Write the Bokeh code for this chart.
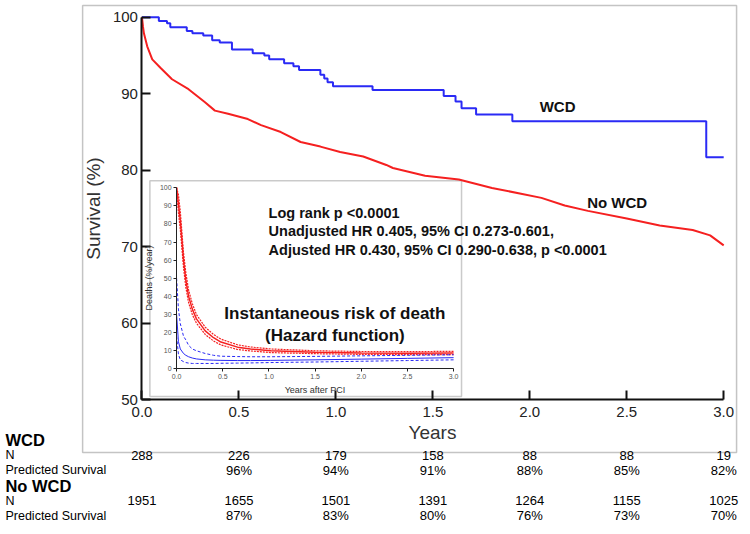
import numpy as np
from bokeh.plotting import figure
from bokeh.models import Range1d, LinearAxis, FixedTicker, PrintfTickFormatter, BoxAnnotation
from bokeh.core.properties import value
from bokeh.embed import file_html
from bokeh.resources import INLINE

# ---------------- data ----------------
x_ticks = [0.0, 0.5, 1.0, 1.5, 2.0, 2.5, 3.0]
y_ticks = [50, 60, 70, 80, 90, 100]

# Kaplan-Meier, WCD (step function)
wcd_t = [0.0, 0.087, 0.129, 0.146, 0.231, 0.260, 0.316, 0.362, 0.401, 0.464, 0.571, 0.631, 0.656,
         0.733, 0.781, 0.810, 0.920, 0.940, 0.957, 0.985, 1.189, 1.556, 1.617, 1.648, 1.723, 1.910,
         2.910, 3.0]
wcd_s = [100.0, 99.5, 99.2, 98.7, 98.2, 97.9, 97.6, 97.0, 96.7, 95.8, 95.3, 95.0, 94.5,
         94.0, 93.6, 93.1, 92.5, 92.0, 91.5, 91.0, 90.5, 89.7, 89.0, 88.1, 87.3, 86.4,
         81.7, 81.7]

# Kaplan-Meier, No WCD
nowcd_t = [0.0, 0.005, 0.01, 0.027, 0.053, 0.095, 0.155, 0.24, 0.325, 0.376, 0.444, 0.546, 0.614,
           0.716, 0.818, 0.92, 1.022, 1.141, 1.26, 1.294, 1.46, 1.634, 1.805, 2.06, 2.18, 2.30,
           2.50, 2.67, 2.84, 2.93, 3.0]
nowcd_s = [100.0, 98.8, 97.9, 96.2, 94.5, 93.4, 91.9, 90.6, 88.9, 87.8, 87.4, 86.7, 85.9,
           85.0, 83.7, 83.1, 82.4, 81.8, 80.7, 80.3, 79.3, 78.8, 77.7, 76.4, 75.4, 74.7,
           73.7, 72.8, 72.2, 71.5, 70.2]

# Hazard function (inset)
haz_t = [0.0, 0.02, 0.04, 0.075, 0.1, 0.13, 0.17, 0.215, 0.31, 0.4, 0.48, 0.66, 0.8, 1.02,
         1.5, 2.0, 2.5, 3.0]
haz_nowcd = [100, 91, 82, 60, 49, 40, 33, 27.6, 21, 17.2, 14.8, 12, 11, 10, 9.2, 8.8, 8.7, 8.8]
haz_nowcd_hi = [100, 96, 87, 64, 53, 43.5, 36, 30, 23, 19, 16.4, 13.3, 12.1, 11, 10, 9.6, 9.5, 9.7]
haz_nowcd_lo = [98, 86, 77, 56, 45, 36.5, 30, 25.2, 19, 15.4, 13.2, 10.7, 9.9, 9, 8.4, 8.0, 7.9, 7.9]
haz_wcd = [30, 15, 11, 8.5, 7.5, 6.7, 6.0, 5.5, 5.0, 4.8, 4.7, 4.6, 4.6, 4.7, 5.0, 5.4, 5.8, 6.2]
haz_wcd_hi = [50, 33, 25, 18, 16, 13, 11, 10, 8.5, 7.5, 7.0, 6.8, 6.7, 6.7, 6.9, 7.2, 7.5, 7.8]
haz_wcd_lo = [18, 8, 5, 4, 3.5, 3.2, 3.0, 3.0, 3.0, 3.0, 3.1, 3.2, 3.3, 3.5, 3.8, 4.2, 4.6, 5.0]
haz_x_ticks = [0.0, 0.5, 1.0, 1.5, 2.0, 2.5, 3.0]
haz_y_ticks = [0, 10, 20, 30, 40, 50, 60, 70, 80, 90, 100]

# Numbers at risk table
wcd_n = [288, 226, 179, 158, 88, 88, 19]
wcd_pred = [96, 94, 91, 88, 85, 82]
nowcd_n = [1951, 1655, 1501, 1391, 1264, 1155, 1025]
nowcd_pred = [87, 83, 80, 76, 73, 70]

stats_lines = ["Log rank p <0.0001",
               "Unadjusted HR 0.405, 95% CI 0.273-0.601,",
               "Adjusted HR 0.430, 95% CI 0.290-0.638, p <0.0001"]
haz_title = ["Instantaneous risk of death", "(Hazard function)"]

# ---------------- layout helpers ----------------
W, H = 742, 526
SX, SY = W / 750.0, H / 534.0
def cx(rx):
    return rx * SX
def cy(ry):
    return ry * SY

def make_range(a, pa, b, pb, size, vertical):
    k = (b - a) / (pb - pa)
    v_at0 = a + (0 - pa) * k
    v_atS = a + (size - pa) * k
    if vertical:
        return Range1d(start=v_atS, end=v_at0)
    return Range1d(start=v_at0, end=v_atS)

xr = make_range(0, cx(143), 3, cx(731), W, False)
yr = make_range(100, cy(17), 50, cy(405.5), H, True)

def mx(rx):
    return (cx(rx) - cx(143)) * 3 / (cx(731) - cx(143))
def my(ry):
    return 100 + (cy(ry) - cy(17)) * (-50) / (cy(405.5) - cy(17))

FONT = "Liberation Sans"
BLUE = "#2a2af5"
RED = "#f52020"

p = figure(width=W, height=H, x_range=xr, y_range=yr, x_axis_type=None, y_axis_type=None,
           toolbar_location=None, output_backend="svg", min_border=0, outline_line_color=None)
p.extra_x_ranges = {"ix": make_range(0, cx(178), 3, cx(458), W, False)}
p.extra_y_ranges = {"iy": make_range(0, cy(374), 100, cy(190), H, True)}

# outer box and inset box
p.add_layout(BoxAnnotation(left=mx(83), right=mx(744), top=my(5), bottom=my(459),
                           fill_color=None, line_color="#3a3a3a", line_width=1.5, level="underlay"))
p.add_layout(BoxAnnotation(left=mx(151), right=mx(466), top=my(183), bottom=my(402),
                           fill_color=None, line_color="#505050", line_width=1.5, level="underlay"))

# main axes
xax = LinearAxis(fixed_location=50, bounds=(0, 3), ticker=FixedTicker(ticks=x_ticks),
                 formatter=PrintfTickFormatter(format="%.1f"), axis_label="Years")
yax = LinearAxis(fixed_location=0, bounds=(50, 100), ticker=FixedTicker(ticks=y_ticks),
                 axis_label="Survival (%)")
for ax in (xax, yax):
    ax.axis_line_width = 2
    ax.axis_line_color = "#111111"
    ax.major_tick_line_width = 2
    ax.major_tick_line_color = "#111111"
    ax.major_tick_in = 9
    ax.major_tick_out = 0
    ax.minor_tick_line_color = None
    ax.major_label_text_font = FONT
    ax.major_label_text_font_size = "15px"
    ax.major_label_text_color = "#222222"
    ax.axis_label_text_font = FONT
    ax.axis_label_text_font_size = "19px"
    ax.axis_label_text_font_style = "normal"
    ax.axis_label_text_color = "#333333"
xax.major_label_standoff = 7
xax.axis_label_standoff = 2
yax.major_label_standoff = 4
yax.axis_label_standoff = 5
p.add_layout(xax, "below")
p.add_layout(yax, "left")

# inset axes
ixax = LinearAxis(x_range_name="ix", y_range_name="iy", fixed_location=0, bounds=(0, 3),
                  ticker=FixedTicker(ticks=haz_x_ticks), formatter=PrintfTickFormatter(format="%.1f"),
                  axis_label="Years after PCI")
iyax = LinearAxis(x_range_name="ix", y_range_name="iy", fixed_location=0, bounds=(0, 100),
                  ticker=FixedTicker(ticks=haz_y_ticks), axis_label="Deaths (%/year)")
for ax in (ixax, iyax):
    ax.axis_line_width = 1
    ax.axis_line_color = "#222222"
    ax.major_tick_line_color = "#222222"
    ax.major_tick_in = 0
    ax.major_tick_out = 3
    ax.minor_tick_line_color = None
    ax.major_label_text_font = FONT
    ax.major_label_text_font_size = "7px"
    ax.major_label_text_color = "#555555"
    ax.major_label_standoff = 2
    ax.axis_label_text_font = FONT
    ax.axis_label_text_font_size = "9px"
    ax.axis_label_text_font_style = "normal"
    ax.axis_label_text_color = "#333333"
    ax.axis_label_standoff = 3
p.add_layout(ixax, "below")
p.add_layout(iyax, "left")

# KM curves
p.step(wcd_t, wcd_s, mode="after", line_color=BLUE, line_width=2)
p.line(nowcd_t, nowcd_s, line_color=RED, line_width=2)

# hazard curves
kw = dict(x_range_name="ix", y_range_name="iy")
p.line(haz_t, haz_nowcd_hi, line_color=RED, line_width=1.2, line_dash="2 1", **kw)
p.line(haz_t, haz_nowcd_lo, line_color=RED, line_width=1.2, line_dash="2 1", **kw)
p.line(haz_t, haz_nowcd, line_color=RED, line_width=1.5, **kw)
p.line(haz_t, haz_wcd_hi, line_color=BLUE, line_width=1, line_dash="3 2", **kw)
p.line(haz_t, haz_wcd_lo, line_color=BLUE, line_width=1, line_dash="3 2", **kw)
p.line(haz_t, haz_wcd, line_color=BLUE, line_width=1, **kw)

# texts
p.text(x=[mx(271)] * 3, y=[my(216), my(234.5), my(253)], text=stats_lines,
       text_font=value(FONT), text_font_style="bold", text_font_size="14.5px",
       text_align="left", text_baseline="middle", text_color="#111111")
p.text(x=[mx(338)] * 2, y=[my(318), my(340)], text=haz_title,
       text_font=value(FONT), text_font_style="bold", text_font_size="17px",
       text_align="center", text_baseline="middle", text_color="#111111")
p.text(x=[mx(545), mx(593)], y=[my(108), my(205)], text=["WCD", "No WCD"],
       text_font=value(FONT), text_font_style="bold", text_font_size="15px",
       text_align="left", text_baseline="middle", text_color="#111111")

# number-at-risk table
row_y = [my(446), my(461.5), my(477), my(492.5), my(508), my(523)]
lx = mx(5)
p.text(x=[lx, lx], y=[row_y[0], row_y[3]], text=["WCD", "No WCD"],
       text_font=value(FONT), text_font_style="bold", text_font_size="16.5px",
       text_align="left", text_baseline="middle", text_color="#000000")
p.text(x=[lx] * 4, y=[row_y[1], row_y[2], row_y[4], row_y[5]],
       text=["N", "Predicted Survival", "N", "Predicted Survival"],
       text_font=value(FONT), text_font_size="12.5px",
       text_align="left", text_baseline="middle", text_color="#000000")
tkw = dict(text_font=value(FONT), text_font_size="13px", text_align="center",
           text_baseline="middle", text_color="#000000")
p.text(x=x_ticks, y=[row_y[1]] * len(x_ticks), text=[str(v) for v in wcd_n], **tkw)
p.text(x=x_ticks[1:], y=[row_y[2]] * len(wcd_pred), text=[f"{v}%" for v in wcd_pred], **tkw)
p.text(x=x_ticks, y=[row_y[4]] * len(x_ticks), text=[str(v) for v in nowcd_n], **tkw)
p.text(x=x_ticks[1:], y=[row_y[5]] * len(nowcd_pred), text=[f"{v}%" for v in nowcd_pred], **tkw)

open("out.html", "w").write(file_html(p, INLINE))
